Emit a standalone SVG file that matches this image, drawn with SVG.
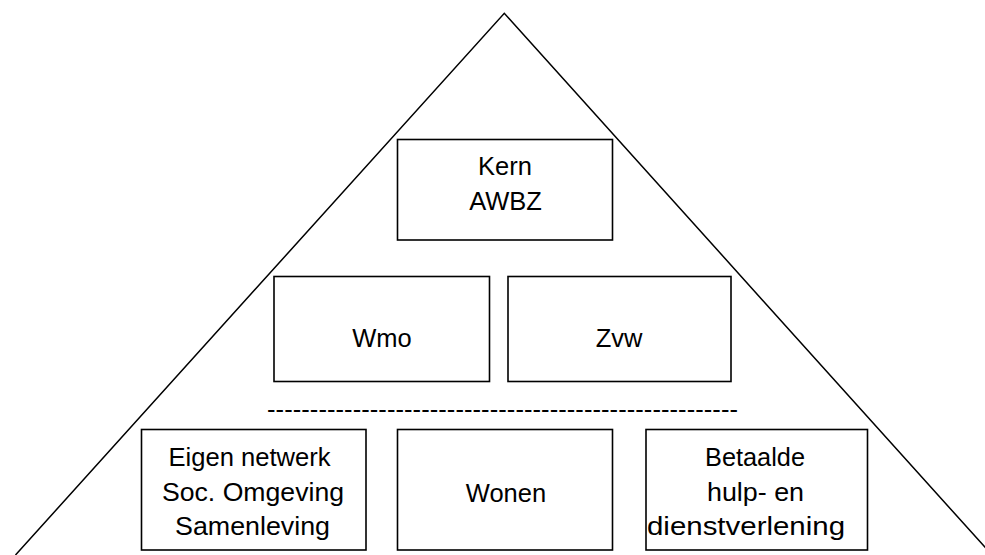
<svg xmlns="http://www.w3.org/2000/svg" width="985" height="555" viewBox="0 0 985 555">
<style>
.box{fill:#fff;stroke:#000;stroke-width:1.6}
.t{font-family:"Liberation Sans",Arial,sans-serif;font-size:25.5px;fill:#000;text-anchor:middle}
.s{font-family:"Liberation Sans",Arial,sans-serif;font-size:25.5px;fill:#000;text-anchor:start}
.tri{fill:none;stroke:#000;stroke-width:1.5}
</style>
<rect width="985" height="555" fill="#fff"/>
<g id="pyramid">
<polyline class="tri" points="15.5,555 504.3,13.3 992,555"/>
</g>
<g id="kern">
<rect class="box" x="397.5" y="139.5" width="215" height="100.5"/>
<text class="t" x="505" y="175">Kern</text>
<text class="t" x="505.5" y="210">AWBZ</text>
</g>
<g id="wmo">
<rect class="box" x="274" y="276.5" width="215.5" height="105"/>
<text class="t" x="382" y="347">Wmo</text>
</g>
<g id="zvw">
<rect class="box" x="508" y="276.5" width="223" height="105"/>
<text class="t" x="619" y="347">Zvw</text>
</g>
<g id="divider">
<text class="s" x="267" y="418" textLength="471" lengthAdjust="spacing">-------------------------------------------------------</text>
</g>
<g id="eigen">
<rect class="box" x="141.5" y="429.5" width="224.5" height="120.5"/>
<text class="s" x="168.5" y="466" textLength="162" lengthAdjust="spacingAndGlyphs">Eigen netwerk</text>
<text class="s" x="162" y="501" textLength="182" lengthAdjust="spacingAndGlyphs">Soc. Omgeving</text>
<text class="s" x="175" y="535" textLength="155" lengthAdjust="spacingAndGlyphs">Samenleving</text>
</g>
<g id="wonen">
<rect class="box" x="397.5" y="429.5" width="215" height="120.5"/>
<text class="t" x="506" y="501.5">Wonen</text>
</g>
<g id="betaalde">
<rect class="box" x="646" y="429.5" width="221.5" height="120.5"/>
<text class="s" x="705" y="466" textLength="100" lengthAdjust="spacingAndGlyphs">Betaalde</text>
<text class="s" x="707" y="501" textLength="97" lengthAdjust="spacingAndGlyphs">hulp- en</text>
<text class="s" x="647" y="535" textLength="198" lengthAdjust="spacingAndGlyphs">dienstverlening</text>
</g>
<g id="connectors"></g>
</svg>
